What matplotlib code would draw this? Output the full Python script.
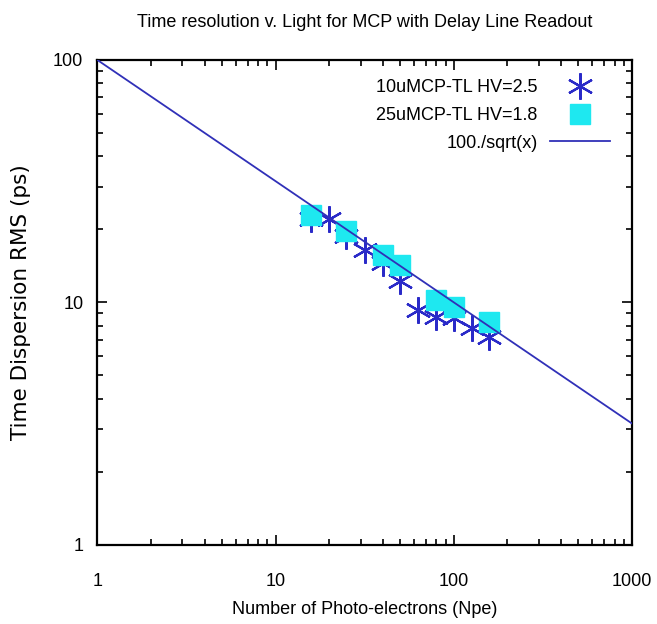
import matplotlib
matplotlib.use("Agg")
import matplotlib.pyplot as plt
import numpy as np
from matplotlib.ticker import LogLocator, NullFormatter, FixedLocator

plt.rcParams["font.family"] = ["Liberation Sans Narrow", "Liberation Sans", "DejaVu Sans"]

# 10uMCP-TL HV=2.5 (stars)
npe_10u = [15.8, 20, 25, 31.6, 40, 50, 63, 80, 100, 126, 158]
rms_10u = [22.0, 22.0, 18.7, 16.4, 14.5, 12.2, 9.3, 8.7, 8.6, 7.8, 7.2]

# 25uMCP-TL HV=1.8 (squares)
npe_25u = [15.8, 25, 40, 50, 80, 100, 158]
rms_25u = [22.9, 19.6, 15.7, 14.3, 10.2, 9.6, 8.3]

fig = plt.figure(figsize=(6.57, 6.24), dpi=100)
ax = fig.add_axes([0.148, 0.127, 0.814, 0.777])

x = np.logspace(0, 3, 200)
ax.plot(npe_10u, rms_10u, ls="none", marker=(6, 2, 0), ms=19, mew=1.6,
        color="#2a2ac8", label="10uMCP-TL HV=2.5", zorder=2)
ax.plot(npe_25u, rms_25u, ls="none", marker="s", ms=15, color="#1ee8f0",
        mec="#1ee8f0", label="25uMCP-TL HV=1.8", zorder=3)
ax.plot(x, 100.0 / np.sqrt(x), color="#3030b8", lw=1.3,
        label="100./sqrt(x)", zorder=4)

ax.set_xscale("log")
ax.set_yscale("log")
ax.set_xlim(1, 1000)
ax.set_ylim(1, 100)

ax.xaxis.set_major_locator(FixedLocator([1, 10, 100, 1000]))
ax.yaxis.set_major_locator(FixedLocator([1, 10, 100]))
ax.set_xticklabels(["1", "10", "100", "1000"])
ax.set_yticklabels(["1", "10", "100"])
ax.xaxis.set_minor_locator(LogLocator(base=10, subs=np.arange(2, 10)))
ax.yaxis.set_minor_locator(LogLocator(base=10, subs=np.arange(2, 10)))
ax.xaxis.set_minor_formatter(NullFormatter())
ax.yaxis.set_minor_formatter(NullFormatter())
ax.tick_params(which="both", direction="in", top=True, right=True,
               labelsize=13, width=1.2)
ax.tick_params(which="major", length=7)
ax.tick_params(axis="x", which="major", pad=20)
ax.tick_params(axis="y", which="major", pad=10)
ax.tick_params(which="minor", length=4)
for s in ax.spines.values():
    s.set_linewidth(1.6)

ax.set_title("Time resolution v. Light for MCP with Delay Line Readout",
             fontsize=13, pad=24)
ax.set_xlabel("Number of Photo-electrons (Npe)", fontsize=13, labelpad=8)
ax.set_ylabel("Time Dispersion RMS (ps)", fontsize=15.5, labelpad=16,
              family="DejaVu Sans")

ax.legend(loc="upper right", frameon=False, markerfirst=False, fontsize=13,
          handlelength=3.3, handletextpad=0.7, labelspacing=0.6,
          borderpad=0, borderaxespad=0,
          bbox_to_anchor=(610 / 657, 1 - 79 / 624),
          bbox_transform=fig.transFigure)

fig.savefig("out.png", dpi=100, facecolor="white")
